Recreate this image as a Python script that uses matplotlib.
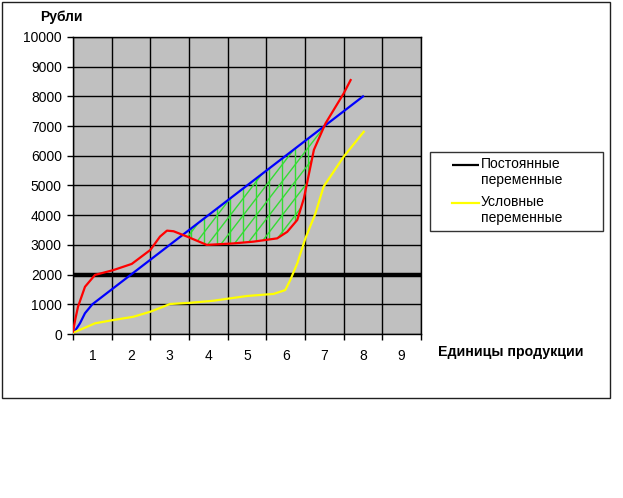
import numpy as np
import matplotlib
matplotlib.use("Agg")
import matplotlib.pyplot as plt
from matplotlib.patches import Rectangle
from matplotlib.collections import LineCollection
from matplotlib.legend_handler import HandlerLine2D

plt.rcParams['font.family'] = ['Liberation Sans', 'DejaVu Sans']

# ---- data (x in category units: 0..9, labels 1..9 at centres) ----
categories = ['1', '2', '3', '4', '5', '6', '7', '8', '9']
y_ticks = [0, 1000, 2000, 3000, 4000, 5000, 6000, 7000, 8000, 9000, 10000]

fixed_x = [0, 9]
fixed_y = [2000, 2000]

blue_x = [0, 0.18, 0.31, 0.5, 1.5, 2.5, 3.5, 4.5, 5.5, 6.5, 7.5]
blue_y = [0, 360, 700, 1000, 2000, 3000, 4000, 5000, 6000, 7000, 8000]

red_x = [0, 0.06, 0.13, 0.31, 0.57, 1.04, 1.52, 2.0, 2.25, 2.43, 2.6, 2.95,
         3.46, 4.15, 4.67, 5.28, 5.54, 5.8, 5.97, 6.23, 6.53, 7.0, 7.18]
red_y = [80, 500, 920, 1590, 1990, 2150, 2360, 2830, 3280, 3480, 3460, 3280,
         3000, 3050, 3110, 3220, 3440, 3840, 4560, 6200, 7090, 8100, 8550]

yel_x = [0, 0.57, 1.04, 1.56, 2.0, 2.51, 3.03, 3.63, 4.5, 5.19, 5.49, 5.62,
         5.8, 6.01, 6.27, 6.48, 7.0, 7.52]
yel_y = [40, 360, 470, 580, 750, 1010, 1050, 1120, 1280, 1350, 1480, 1820,
         2380, 3220, 4060, 4960, 5970, 6810]

W, H = 623, 498
fig = plt.figure(figsize=(W / 100, H / 100), dpi=100)
fig.patch.set_facecolor('white')

# outer chart border
fig.patches.append(Rectangle((2 / W, 1 - 398 / H), 608 / W, 396 / H,
                             transform=fig.transFigure, fill=False,
                             edgecolor='#202020', linewidth=1.0))

ax = fig.add_axes([73 / W, 1 - 334 / H, 348 / W, 297 / H])
ax.set_facecolor('#C0C0C0')
ax.set_xlim(0, 9)
ax.set_ylim(0, 10000)

ax.set_yticks(y_ticks)
ax.set_yticklabels([str(v) for v in y_ticks], fontsize=10)
ax.set_xticks(np.arange(0, 10))
ax.set_xticklabels([])
ax.set_xticks(np.arange(len(categories)) + 0.5, minor=True)
ax.set_xticklabels(categories, minor=True, fontsize=10)
ax.tick_params(axis='x', which='major', length=4, width=1, direction='out')
ax.tick_params(axis='x', which='minor', length=0, pad=11)
ax.tick_params(axis='y', length=4, width=1, pad=4)
ax.grid(True, which='major', color='black', linewidth=1.0)
ax.set_axisbelow(True)
for s in ax.spines.values():
    s.set_color('black')
    s.set_linewidth(1.0)

# hatched region between blue and red (hand-style green hatching)
xr = np.array(red_x)
bi = np.interp(xr, blue_x, blue_y)
ry = np.array(red_y)
region = ax.fill_between(xr, ry, bi, where=(bi > ry) & (xr > 2.5),
                         interpolate=True, facecolor='none', linewidth=0,
                         zorder=2)
clip_path = region.get_paths()[0]
green = '#33DD33'
step = 0.336
vert = [[(c, 0), (c, 10000)] for c in np.arange(3.06, 7.0, step)]
diag_run = 10000 / 1692.0
diag = [[(c, 0), (c + diag_run, 10000)] for c in np.arange(-3.0, 7.0, step)]
for segs in (vert, diag):
    lc = LineCollection(segs, colors=green, linewidths=1.0, zorder=2)
    ax.add_collection(lc)
    lc.set_clip_path(clip_path, ax.transData)

ax.plot(fixed_x, fixed_y, color='black', linewidth=3.2, zorder=3,
        label='Постоянные\nпеременные', solid_capstyle='butt')
ax.plot(blue_x, blue_y, color='#0000FF', linewidth=1.6, zorder=4)
ax.plot(red_x, red_y, color='#FF0000', linewidth=1.6, zorder=5)
ax.plot(yel_x, yel_y, color='#FFFF00', linewidth=1.6, zorder=4,
        label='Условные\nпеременные')

fig.text(61 / W, 1 - 17 / H, 'Рубли', fontsize=10, fontweight='bold',
         ha='center', va='center')
fig.text(438 / W, 1 - 352 / H, 'Единицы продукции', fontsize=10.2,
         fontweight='bold', ha='left', va='center')


class RightLine(HandlerLine2D):
    def create_artists(self, legend, orig_handle, xdescent, ydescent, width,
                       height, fontsize, trans):
        arts = super().create_artists(legend, orig_handle, xdescent, ydescent,
                                      width, height, fontsize, trans)
        for a in arts:
            xd = np.asarray(a.get_xdata(), dtype=float)
            if len(xd) >= 2:
                a.set_xdata(np.linspace(xd[0] + 0.38 * (xd[-1] - xd[0]),
                                        xd[-1], len(xd)))
            a.set_ydata(np.asarray(a.get_ydata(), dtype=float) + 0.6 * fontsize)
            a.set_linewidth(1.6)
        return arts


handles, labels = ax.get_legend_handles_labels()
leg = fig.legend(handles, labels, loc='upper left',
                 bbox_to_anchor=(430 / W, 1 - 229 / H, 173 / W, 77 / H),
                 mode='expand', borderaxespad=0,
                 fontsize=10, frameon=True, fancybox=False, edgecolor='black',
                 handlelength=3.14, handletextpad=0.15, borderpad=0.38,
                 labelspacing=0.55, handler_map={plt.Line2D: RightLine()})
leg.get_frame().set_linewidth(1.0)

fig.savefig('out.png', dpi=100)
